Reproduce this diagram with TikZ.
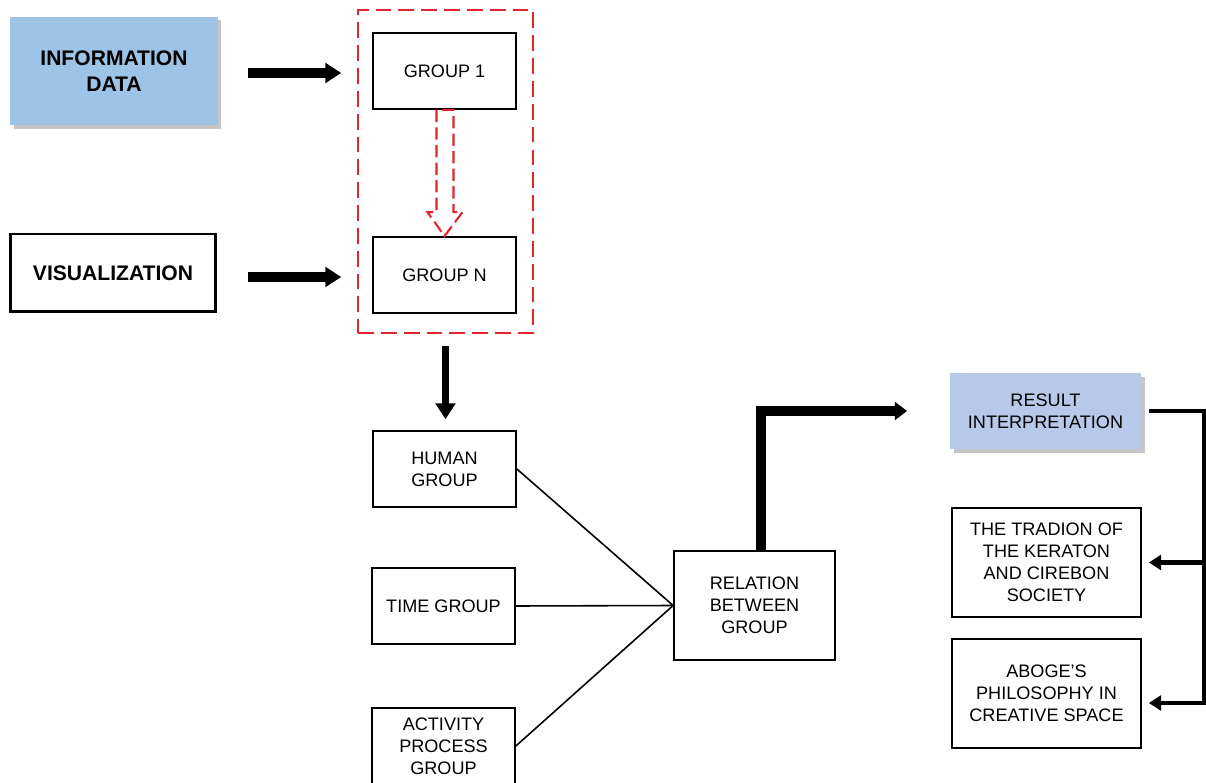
\documentclass[tikz,border=0pt]{standalone}
\usepackage{fontspec}
\setmainfont{Liberation Sans}
\usetikzlibrary{arrows.meta,calc,shadows}
\definecolor{infoblue}{RGB}{157,195,230}
\definecolor{resblue}{RGB}{182,201,232}
\definecolor{framered}{RGB}{226,36,44}
\begin{document}
\begin{tikzpicture}[x=0.02cm, y=-0.02cm,
	every node/.style={font=\fontsize{10.3}{12.5}\selectfont, align=center, inner sep=0pt},
	box/.style={draw, line width=1pt, minimum width=2.86cm, minimum height=1.52cm},
	tallbox/.style={box, minimum height=2.18cm},
	bluebox/.style={draw=none, fill=#1, drop shadow={shadow xshift=2pt, shadow yshift=-2pt, fill=black!45, opacity=0.5}},
	headline/.style={font=\fontsize{12}{14.5}\selectfont\bfseries},
	frame/.style={draw=framered, line width=1.4pt, dash pattern=on 9pt off 4pt},
	bigarrow/.style={line width=5.3pt, -{Triangle[length=9pt, width=11pt]}},
	rail/.style={line width=2.3pt},
	link/.style={line width=0.9pt}]
		\useasboundingbox (0,0) rectangle (1206,783);
		\node[box, bluebox=infoblue, headline, minimum width=4.16cm, minimum height=2.18cm] at (114,71) (info) {INFORMATION\\DATA};
		\node[box, headline, line width=1.7pt, minimum width=4.12cm, minimum height=1.56cm] at (113,273) (vis) {VISUALIZATION};
		\node[frame, minimum width=3.5cm, minimum height=6.46cm] at (445.5,171.5) (grp) {};
		\node[box] at (444.5,71) (g1) {GROUP 1};
		\node[box] at (444.5,275) (gN) {GROUP N};
		\node[box] at (444.5,469) (human) {HUMAN\\GROUP};
		\node[box] at (443.5,606) (time) {TIME GROUP};
		\node[box] at (443.5,746) (act) {ACTIVITY\\PROCESS\\GROUP};
		\node[tallbox, minimum width=3.22cm] at (754.5,605.5) (rel) {RELATION\\BETWEEN\\GROUP};
		\node[box, bluebox=resblue, minimum width=3.82cm] at (1045.5,411) (res) {RESULT\\INTERPRETATION};
		\node[tallbox, minimum width=3.78cm] at (1046.5,562.5) (trad) {THE TRADION OF\\THE KERATON\\AND CIREBON\\SOCIETY};
		\node[tallbox, minimum width=3.78cm] at (1046.5,693.5) (aboge) {ABOGE’S\\PHILOSOPHY IN\\CREATIVE SPACE};

		\coordinate (resin) at ($(res.west)+(-42,0)$);
		\coordinate (railtop) at ($(res.east)+(62,0)$);
		\coordinate (abogein) at ($(aboge.east)+(7,9.5)$);

		\draw[bigarrow, shorten <=16.4pt, shorten >=17.6pt] ($(info.east)+(0,2)$) -- ($(info.east -| g1.west)+(0,2)$);
		\draw[bigarrow, shorten <=17.6pt, shorten >=17.6pt] ($(vis.east)+(0,4)$) -- ($(vis.east -| gN.west)+(0,4)$);
		\draw[frame, line width=1.2pt, dash pattern=on 7pt off 3pt] ($(g1.south)+(-8,0)$) -- ($(gN.north)+(-8,-24)$) -- ($(gN.north)+(-17,-24)$) -- (gN.north) -- ($(gN.north)+(18,-24)$) -- ($(gN.north)+(9,-24)$) -- ($(g1.south)+(9,0)$) -- cycle;
		\draw[bigarrow, line width=4.5pt, shorten <=6.8pt, shorten >=6.2pt] (grp.south) -- (grp.south |- human.north);
		\draw[link] (human.east) -- (rel.west);
		\draw[link] (time.east) -- (rel.west);
		\draw[link] (act.east) -- (rel.west);
		\draw[line width=5.7pt, -{Triangle[length=7pt, width=10pt]}] ($(rel.north)+(6.5,0)$) |- (resin);
		\draw[rail, -{Triangle[length=7pt, width=8.5pt]}] ($(res.east)+(7,0)$) -- (railtop) |- (abogein);
		\draw[rail, -{Triangle[length=7pt, width=8.5pt]}] (railtop |- trad.east) -- ($(trad.east)+(7,0)$);
\end{tikzpicture}
\end{document}
